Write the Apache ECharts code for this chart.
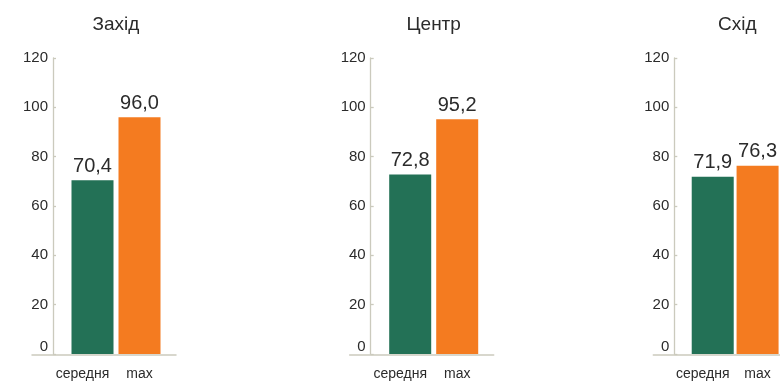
<!DOCTYPE html>
<html><head><meta charset="utf-8">
<script src="https://cdn.jsdelivr.net/npm/echarts@6/dist/echarts.min.js"></script>
<style>html,body{margin:0;padding:0;background:#fff}#c{width:780px;height:381px}</style>
</head><body><div id="c"></div>
<script>
const regions = ['Захід', 'Центр', 'Схід'];
const categories = ['середня', 'max'];
const avgValues = [70.4, 72.8, 71.9];
const maxValues = [96.0, 95.2, 76.3];
const yTicks = [0, 20, 40, 60, 80, 100, 120];

const GREEN = '#237156', ORANGE = '#f47b20', AXIS = '#cbcabd', TEXT = '#2b2b2b';
const FONT = '"Liberation Sans", Arial, sans-serif';
const axisX = [53, 370.7, 674.3];
const TOP = 58, BOTTOM = 381 - 354.3;

const grids = [], xAxes = [], yAxes = [], series = [], titles = [];
regions.forEach((name, i) => {
  const ax = axisX[i];
  grids.push({left: ax + 16, width: 94, top: TOP, bottom: BOTTOM, containLabel: false});
  grids.push({left: ax - 21, width: 144, top: TOP, bottom: BOTTOM, containLabel: false});
  const gMain = 2 * i, gBase = 2 * i + 1;
  titles.push({text: name, left: ax + 16 + 42, top: 10, textAlign: 'center',
    textStyle: {fontFamily: FONT, fontSize: 19, fontWeight: 'normal', color: TEXT}});
  xAxes.push({gridIndex: gMain, type: 'category',
    data: [{value: categories[0], textStyle: {padding: [0, 20, 0, 0]}}, categories[1]],
    axisLine: {show: false}, axisTick: {show: false},
    axisLabel: {interval: 0, fontFamily: FONT, fontSize: 14, color: TEXT, margin: 13}});
  xAxes.push({gridIndex: gBase, type: 'value', min: 0, max: 1,
    axisLine: {show: true, lineStyle: {color: AXIS, width: 1.5}},
    axisTick: {show: false}, axisLabel: {show: false}, splitLine: {show: false}});
  yAxes.push({gridIndex: gMain, type: 'value', min: yTicks[0], max: yTicks[yTicks.length - 1],
    interval: yTicks[1] - yTicks[0], offset: 16,
    axisLine: {show: true, lineStyle: {color: AXIS, width: 1.3}},
    axisTick: {show: true, inside: true, length: 3, lineStyle: {color: AXIS, width: 1.3}},
    axisLabel: {fontFamily: FONT, fontSize: 15, color: TEXT, margin: 5, verticalAlignMinLabel: 'bottom'},
    splitLine: {show: false}});
  yAxes.push({gridIndex: gBase, type: 'value', min: 0, max: 1, show: false});
  series.push({type: 'bar', xAxisIndex: gMain, yAxisIndex: gMain, barWidth: 42,
    data: [{value: avgValues[i], itemStyle: {color: GREEN}}, {value: maxValues[i], itemStyle: {color: ORANGE}}],
    label: {show: true, position: 'top', distance: 4, fontFamily: FONT, fontSize: 20, color: TEXT,
      formatter: p => p.value.toFixed(1).replace('.', ',')},
    silent: true, animation: false});
});

const chart = echarts.init(document.getElementById('c'), null, {renderer: 'canvas'});
chart.setOption({animation: false, title: titles, grid: grids, xAxis: xAxes, yAxis: yAxes, series: series});
</script></body></html>
